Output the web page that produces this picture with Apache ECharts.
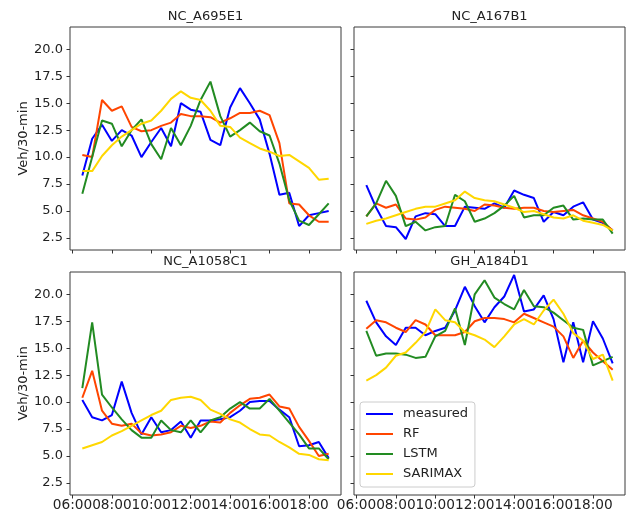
<!DOCTYPE html>
<html><head><meta charset="utf-8">
<script src="https://cdn.jsdelivr.net/npm/echarts@6/dist/echarts.min.js"></script>
<style>html,body{margin:0;padding:0;background:#fff}#c{width:631px;height:514px}</style>
</head><body><div id="c"></div>
<script>
// ---- data ----
const times = ["06:30","07:00","07:30","08:00","08:30","09:00","09:30","10:00","10:30","11:00","11:30","12:00","12:30",
  "13:00","13:30","14:00","14:30","15:00","15:30","16:00","16:30","17:00","17:30","18:00","18:30","19:00"];
const xTickLabels = ["06:00","08:00","10:00","12:00","14:00","16:00","18:00"];
const yTickLabels = ["2.5","5.0","7.5","10.0","12.5","15.0","17.5","20.0"];
const panelTitles = ["NC_A695E1","NC_A167B1","NC_A1058C1","GH_A184D1"];
const models = ["measured","RF","LSTM","SARIMAX"];

const nc695Measured = [8.3,11.7,13.0,11.5,12.5,12.0,10.0,11.4,12.7,11.0,15.0,14.4,14.2,11.6,11.1,14.6,16.4,15.0,13.5,10.3,6.5,6.7,3.6,4.6,4.8,5.0];
const nc695RF       = [10.2,10.0,15.3,14.3,14.7,12.8,12.4,12.5,12.9,13.2,14.0,13.8,13.8,13.7,13.2,13.6,14.1,14.1,14.3,13.9,11.3,5.7,5.6,4.6,4.0,4.0];
const nc695LSTM     = [6.6,10.0,13.4,13.1,11.0,12.5,13.5,11.2,9.8,12.7,11.1,12.9,15.3,17.0,13.8,11.9,12.5,13.2,12.4,12.0,9.4,6.0,4.1,3.7,4.7,5.7];
const nc695SARIMAX  = [8.7,8.7,10.1,11.1,11.9,12.5,13.1,13.4,14.3,15.4,16.1,15.5,15.3,14.3,12.9,12.8,11.8,11.3,10.8,10.5,10.1,10.2,9.6,9.0,7.9,8.0];

const nc167Measured = [7.4,5.3,3.6,3.5,2.4,4.5,4.8,4.7,3.6,3.6,5.4,5.3,5.2,5.7,5.3,6.9,6.5,6.2,4.0,4.9,4.6,5.4,5.8,4.2,3.9,3.2];
const nc167RF       = [4.5,5.7,5.3,5.6,4.3,4.2,4.4,5.1,5.4,5.3,5.2,5.0,5.6,5.5,5.3,5.2,5.3,5.3,5.0,4.9,5.0,5.1,4.6,4.3,4.0,3.2];
const nc167LSTM     = [4.5,5.7,7.8,6.4,3.6,4.0,3.2,3.5,3.6,6.5,5.9,4.0,4.3,4.8,5.5,6.4,4.4,4.6,4.6,5.3,5.5,4.2,4.3,4.2,4.2,2.9];
const nc167SARIMAX  = [3.8,4.1,4.3,4.6,4.9,5.2,5.4,5.4,5.7,6.0,6.8,6.2,6.0,5.9,5.6,5.3,4.9,5.0,4.7,4.4,4.3,4.6,4.1,3.9,3.7,3.2];

const nc1058Measured = [10.2,8.6,8.3,8.8,11.9,9.0,7.0,8.6,7.2,7.4,8.2,6.7,8.3,8.3,8.4,8.6,9.2,10.0,10.1,10.1,9.3,8.6,5.9,6.0,6.3,4.8];
const nc1058RF       = [10.4,12.9,9.2,8.0,7.8,8.0,7.1,6.9,7.0,7.2,7.8,7.6,7.8,8.2,8.1,9.0,9.7,10.3,10.4,10.7,9.6,9.4,7.7,6.4,5.0,5.2];
const nc1058LSTM     = [11.3,17.4,10.7,9.5,8.4,7.4,6.7,6.7,8.3,7.4,7.2,8.3,7.2,8.3,8.6,9.4,10.0,9.4,9.4,10.3,9.2,8.1,7.0,5.7,5.7,4.7];
const nc1058SARIMAX  = [5.7,6.0,6.3,6.9,7.3,7.8,8.3,8.8,9.2,10.2,10.4,10.5,10.2,9.3,8.9,8.4,8.1,7.5,7.0,6.9,6.3,5.8,5.2,5.1,4.7,4.6];

const gh184Measured = [19.4,17.4,16.1,15.3,16.9,16.9,16.2,16.6,16.9,18.5,20.7,18.9,17.4,18.8,19.8,21.8,18.4,18.6,19.9,17.7,13.7,17.4,13.7,17.5,15.9,13.6];
const gh184RF       = [16.8,17.6,17.4,16.9,16.5,17.6,17.2,16.2,16.2,16.2,16.5,17.5,17.8,17.8,17.7,17.4,18.2,17.8,17.4,17.0,16.1,14.1,15.7,14.6,13.8,13.0];
const gh184LSTM     = [16.6,14.3,14.5,14.5,14.4,14.1,14.2,16.1,16.6,18.7,15.3,20.0,21.3,19.7,19.1,18.6,20.4,18.9,18.8,18.3,17.6,16.9,16.7,13.4,13.8,14.2];
const gh184SARIMAX  = [12.0,12.5,13.2,14.3,14.6,15.5,16.5,18.6,17.6,17.4,16.5,16.2,15.8,15.1,16.1,17.2,17.7,17.2,18.5,19.5,18.2,16.4,15.7,14.0,14.4,12.0];

// ---- build ----
const panelData = [
  [nc695Measured, nc695RF, nc695LSTM, nc695SARIMAX],
  [nc167Measured, nc167RF, nc167LSTM, nc167SARIMAX],
  [nc1058Measured, nc1058RF, nc1058LSTM, nc1058SARIMAX],
  [gh184Measured, gh184RF, gh184LSTM, gh184SARIMAX]
];
const colors = ["#0000ff", "#ff4500", "#228b22", "#ffd700"];
const FONT = "DejaVu Sans";
const toHour = s => { const p = s.split(":"); return +p[0] + (+p[1]) / 60; };
const xTicks = xTickLabels.map(toHour);
const yTicks = yTickLabels.map(Number);

const grids = [
  {left: 70, top: 27, width: 271, height: 223},
  {left: 354, top: 27, width: 271, height: 223},
  {left: 70, top: 272, width: 271, height: 223},
  {left: 354, top: 272, width: 271, height: 223}
].map(g => Object.assign(g, {show: true, borderColor: "#3a3a3a", borderWidth: 1, backgroundColor: "transparent", containLabel: false}));

const xAxes = [], yAxes = [], series = [], graphics = [];
for (let p = 0; p < 4; p++) {
  const bottomRow = p >= 2, leftCol = p % 2 === 0;
  xAxes.push({
    type: "value", gridIndex: p, min: 5.875, max: 19.625,
    axisLine: {show: false}, splitLine: {show: false},
    axisTick: {show: true, customValues: xTicks, length: 3.5, lineStyle: {color: "#333", width: 1}},
    axisLabel: {show: bottomRow, customValues: xTicks, margin: 3,
      formatter: v => { const h = Math.round(v); return (h < 10 ? "0" : "") + h + ":00"; },
      color: "#222", fontFamily: FONT, fontSize: 13.7}
  });
  yAxes.push({
    type: "value", gridIndex: p, min: 1.38, max: 22.07,
    axisLine: {show: false}, splitLine: {show: false},
    axisTick: {show: true, customValues: yTicks, length: 3.5, lineStyle: {color: "#333", width: 1}},
    axisLabel: {show: leftCol, customValues: yTicks, margin: 7,
      formatter: v => v.toFixed(1), color: "#222", fontFamily: FONT, fontSize: 13},
    name: leftCol ? "Veh/30-min" : "", nameLocation: "middle", nameGap: 39, nameRotate: 90,
    nameTextStyle: {color: "#222", fontFamily: FONT, fontSize: 13}
  });
  for (let m = 0; m < 4; m++) {
    series.push({
      name: models[m], type: "line", xAxisIndex: p, yAxisIndex: p,
      data: times.map((t, i) => [toHour(t), panelData[p][m][i]]),
      showSymbol: false, symbol: "none", animation: false,
      lineStyle: {color: colors[m], width: 2}, itemStyle: {color: colors[m]}, z: 2 + m
    });
  }
  const g = grids[p];
  graphics.push({
    type: "text", x: g.left + g.width / 2, y: bottomRow ? 255.5 : 10,
    style: {text: panelTitles[p], fill: "#222", font: "13px '" + FONT + "'", textAlign: "center", textVerticalAlign: "top"}
  });
}

const chart = echarts.init(document.getElementById("c"), null, {renderer: "canvas"});
chart.setOption({
  animation: false,
  backgroundColor: "#fff",
  grid: grids, xAxis: xAxes, yAxis: yAxes, series: series,
  graphic: graphics,
  legend: {
    data: models, orient: "vertical", left: 360, top: 402,
    padding: [5, 7, 6, 6], itemGap: 6, itemWidth: 27, itemHeight: 2, icon: "rect",
    backgroundColor: "rgba(255,255,255,0.8)", borderColor: "#cccccc", borderWidth: 1, borderRadius: 3,
    textStyle: {color: "#222", fontFamily: FONT, fontSize: 13, lineHeight: 14, padding: [0, 0, 0, 5]}
  }
});
</script></body></html>
